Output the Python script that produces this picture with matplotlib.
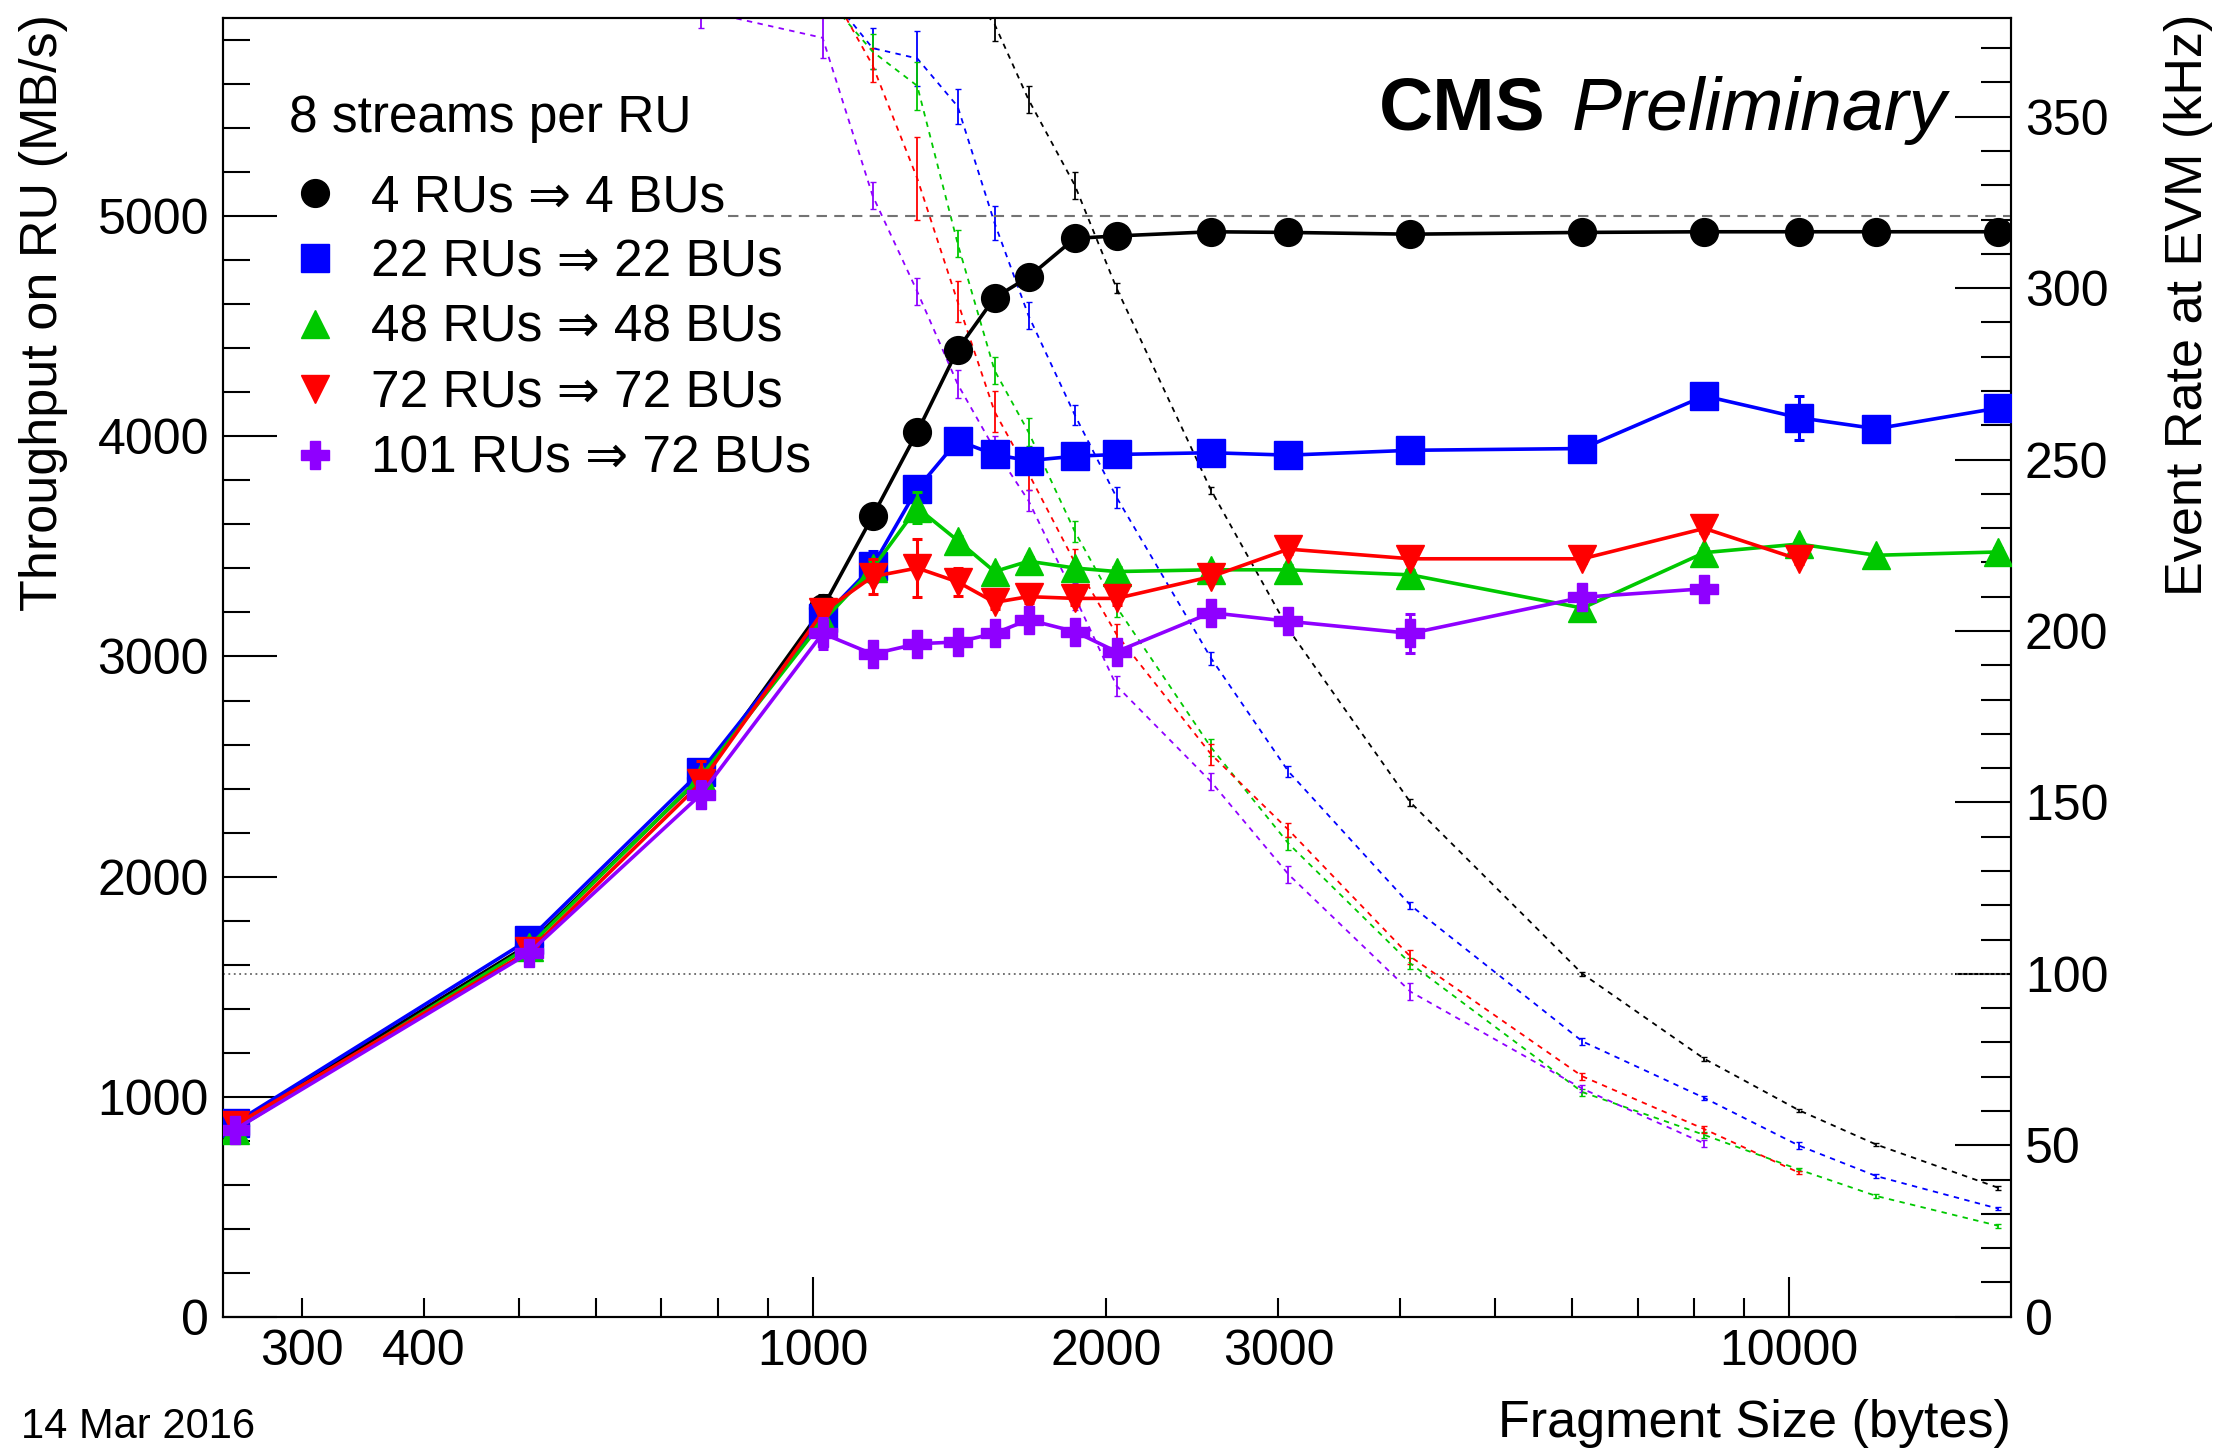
import matplotlib
matplotlib.use('Agg')
import matplotlib.pyplot as plt
from matplotlib.lines import Line2D
from matplotlib.ticker import FixedLocator, FixedFormatter, MultipleLocator

plt.rcParams['font.family'] = ['Liberation Sans', 'DejaVu Sans']

W, H = 2213, 1449

# fragment sizes (bytes)
sizes = [256, 512, 768, 1024, 1152, 1280, 1408, 1536, 1664, 1856, 2048,
         2560, 3072, 4096, 6144, 8192, 10240, 12288, 16384]

# throughput on RU (MB/s)
thr_4 = [870, 1690, 2450, 3220, 3637, 4020, 4395, 4630, 4724, 4900, 4911,
         4930, 4927, 4919, 4927, 4930, 4930, 4930, 4930]
thr_22 = [880, 1713, 2477, 3175, 3410, 3762, 3981, 3918, 3890, 3910, 3918,
          3926, 3915, 3937, 3945, 4184, 4085, 4035, 4129]
thr_48 = [850, 1681, 2453, 3160, 3400, 3676, 3527, 3386, 3433, 3402, 3386,
          3394, 3394, 3371, 3220, 3472, 3511, 3460, 3475]
thr_72 = [870, 1660, 2424, 3202, 3363, 3402, 3339, 3246, 3272, 3264, 3264,
          3363, 3488, 3444, 3444, 3582, 3441]
thr_101 = [850, 1652, 2372, 3105, 3011, 3058, 3066, 3105, 3167, 3113, 3022,
           3199, 3160, 3105, 3269, 3308]

err_4 = [20, 20, 20, 60, 20, 20, 20, 55, 20, 15, 15, 10, 10, 10, 10, 10, 10, 10, 10]
err_22 = [20, 25, 25, 40, 70, 50, 20, 20, 20, 15, 15, 15, 15, 15, 15, 20, 100, 20, 50]
err_48 = [20, 30, 30, 50, 40, 70, 20, 20, 20, 20, 20, 20, 20, 20, 20, 20, 20, 20, 20]
err_72 = [20, 30, 100, 40, 80, 130, 65, 30, 30, 30, 30, 20, 20, 20, 20, 20, 20]
err_101 = [25, 50, 60, 70, 30, 30, 40, 40, 30, 40, 30, 30, 30, 90, 30, 30]

# event rate at EVM (kHz)
rate_4 = [425, 413, 399, 393, 395, 393, 390, 377, 355, 330, 300, 241, 200.5,
          150, 100, 75.2, 60.2, 50.2, 37.6]
rate_22 = [430, 418, 403, 388, 370, 367, 353, 319, 292, 263, 239, 192, 159,
           120, 80.3, 63.8, 49.9, 41.0, 31.5]
rate_48 = [415, 410, 399, 386, 369, 359, 313, 276, 258, 229, 207, 166, 138,
           103, 65.5, 53.0, 42.9, 35.2, 26.5]
rate_72 = [425, 405, 395, 391, 365, 332, 296, 264, 246, 220, 199, 164, 142,
           105, 70.1, 54.7, 42.0]
rate_101 = [415, 403, 381, 373, 327, 299, 272, 253, 238, 210, 184, 156, 129,
            94.8, 66.5, 50.5]

rerr_4 = [3, 3, 3, 7, 3, 3, 3, 5, 4, 4, 1.5, 1, 1, 1, 0.5, 0.5, 0.5, 0.5, 0.5]
rerr_22 = [3, 3, 3, 5, 6, 8, 5, 5, 4, 3, 3, 2, 1.5, 1, 1, 0.5, 1, 0.5, 0.5]
rerr_48 = [3, 3, 3, 5, 5, 7, 4, 4, 4, 3, 3, 2.5, 2, 1.5, 1, 1, 0.5, 0.5, 0.5]
rerr_72 = [3, 3, 5, 5, 5, 12, 6, 6, 5, 4, 3, 3, 2, 2, 1, 1, 0.5]
rerr_101 = [3, 4, 5, 6, 4, 4, 4, 4, 3, 4, 3, 2.5, 2.5, 2.5, 1, 1]

labels = ['4 RUs \u21d2 4 BUs', '22 RUs \u21d2 22 BUs', '48 RUs \u21d2 48 BUs',
          '72 RUs \u21d2 72 BUs', '101 RUs \u21d2 72 BUs']
colors = ['#000000', '#0000ff', '#00c800', '#ff0000', '#8f00ff']
markers = ['o', 's', '^', 'v', 'P']

thr_all = [thr_4, thr_22, thr_48, thr_72, thr_101]
err_all = [err_4, err_22, err_48, err_72, err_101]
rate_all = [rate_4, rate_22, rate_48, rate_72, rate_101]
rerr_all = [rerr_4, rerr_22, rerr_48, rerr_72, rerr_101]

x_min, x_max = 249, 16880
thr_max = 5900
rate_max = 378.7
thr_limit = 5000
thr_limit_start = 820
rate_limit = 100

fig = plt.figure(figsize=(W / 100, H / 100), dpi=100)
ax = fig.add_axes([223 / W, 1 - 1316.7 / H, (2011 - 223) / W, (1316.7 - 18.3) / H])
ax2 = ax.twinx()
ax.set_zorder(ax2.get_zorder() + 1)
ax.patch.set_visible(False)

# event rate curves (right axis)
for rate, rerr, c in zip(rate_all, rerr_all, colors):
    n = len(rate)
    ax2.errorbar(sizes[:n], rate, yerr=rerr, color=c, lw=1.3, ls=(0, (3, 3)),
                 elinewidth=1.3, capsize=2)
ax2.axhline(rate_limit, color='0.4', lw=1.3, ls=(0, (1, 2)))

# throughput curves (left axis)
for i, (thr, err, c, m) in enumerate(zip(thr_all, err_all, colors, markers)):
    n = len(thr)
    ax.errorbar(sizes[:n], thr, yerr=err, color=c, marker=m, ms=20, lw=2.6,
                elinewidth=2.2, capsize=3.5, capthick=2.2, zorder=3 + i)
ax.plot([thr_limit_start, x_max], [thr_limit, thr_limit], color='0.45',
        lw=1.5, ls=(0, (5, 3.5)), zorder=2)

ax.set_xscale('log')
ax.set_xlim(x_min, x_max)
ax.set_ylim(0, thr_max)
ax2.set_ylim(0, rate_max)

ax.xaxis.set_major_locator(FixedLocator([1000, 10000]))
ax.xaxis.set_major_formatter(FixedFormatter(['1000', '10000']))
minor_x = [300, 400, 500, 600, 700, 800, 900,
           2000, 3000, 4000, 5000, 6000, 7000, 8000, 9000]
minor_lab = ['300', '400', '', '', '', '', '',
             '2000', '3000', '', '', '', '', '', '']
ax.xaxis.set_minor_locator(FixedLocator(minor_x))
ax.xaxis.set_minor_formatter(FixedFormatter(minor_lab))
ax.yaxis.set_major_locator(MultipleLocator(1000))
ax.yaxis.set_minor_locator(MultipleLocator(200))
ax2.yaxis.set_major_locator(MultipleLocator(50))
ax2.yaxis.set_minor_locator(MultipleLocator(10))

fs = 36
ax.tick_params(axis='x', which='major', direction='in', length=29, width=1.5,
               labelsize=fs, pad=9, top=False)
ax.tick_params(axis='x', which='minor', direction='in', length=14, width=1.5,
               labelsize=fs, pad=9, top=False)
ax.tick_params(axis='y', which='major', direction='in', length=39, width=1.5,
               labelsize=fs, pad=10, right=False)
ax.tick_params(axis='y', which='minor', direction='in', length=19.5, width=1.5,
               right=False)
ax2.tick_params(axis='y', which='major', direction='in', length=40, width=1.5,
                labelsize=fs, pad=10)
ax2.tick_params(axis='y', which='minor', direction='in', length=21.5, width=1.5)
for a in (ax, ax2):
    for s in a.spines.values():
        s.set_linewidth(1.5)

# legend
handles = [Line2D([], [], ls='none', marker=m, color=c, ms=20)
           for m, c in zip(markers, colors)]
ax.text((289 - 223) / 1788, (1316.7 - 132) / 1298.4, '8 streams per RU',
        transform=ax.transAxes, fontsize=37, ha='left', va='baseline')
ax.legend(handles, labels, loc='upper left',
          bbox_to_anchor=((289 - 223) / 1788, (1316.7 - 173) / 1298.4),
          frameon=False, fontsize=37, handlelength=1.0, handletextpad=0.6,
          labelspacing=0.32, borderpad=0, borderaxespad=0)

# titles
fig.text(19 / W, 1 - 14 / H, 'Throughput on RU (MB/s)', rotation=90,
         ha='left', va='top', fontsize=37.5)
fig.text(2164 / W, 1 - 14 / H, 'Event Rate at EVM (kHz)', rotation=90,
         ha='left', va='top', fontsize=37.5)
fig.text(2011 / W, 1 - 1437 / H, 'Fragment Size (bytes)', ha='right',
         va='baseline', fontsize=37.5)
fig.text(1545 / W, 1 - 130 / H, 'CMS', ha='right', va='baseline',
         fontsize=54, fontweight='bold')
fig.text(1572 / W, 1 - 130 / H, 'Preliminary', ha='left', va='baseline',
         fontsize=54, fontstyle='italic')
fig.text(21 / W, 2 / H, '14 Mar 2016', ha='left', va='bottom', fontsize=30)

fig.savefig('out.png', dpi=100)
